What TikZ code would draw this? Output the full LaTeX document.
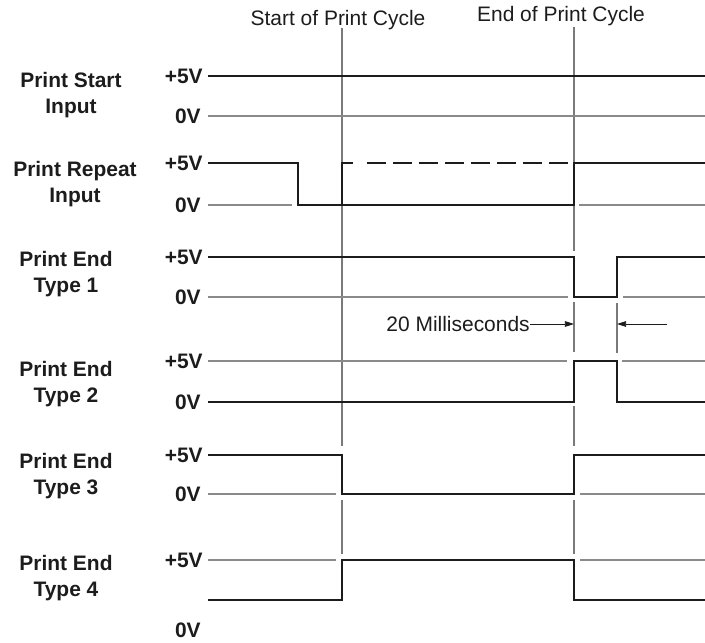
\documentclass[tikz,border=0pt]{standalone}
\usepackage{fontspec}
\setmainfont{Liberation Sans}
\usetikzlibrary{arrows.meta}
\definecolor{sigblack}{HTML}{1C1C1C}
\definecolor{refgray}{HTML}{8A8A8A}
\definecolor{cycgray}{HTML}{7A7A7A}
\tikzset{
  sig/.style={line width=1.5pt, draw=sigblack, line join=miter},
  refline/.style={line width=0.8pt, draw=refgray},
  cycline/.style={line width=0.8pt, draw=cycgray},
  siglbl/.style={font=\fontsize{14.9}{18.1}\selectfont\bfseries, align=center,
                 inner sep=0pt, text=sigblack},
  volt/.style={font=\fontsize{14.9}{18}\selectfont\bfseries, anchor=east,
               inner sep=0pt, text=sigblack},
  note/.style={font=\fontsize{14.9}{18}\selectfont, inner sep=0pt, text=sigblack},
  dimarr/.style={-{Triangle[length=6.5pt, width=4pt]}, line width=0.6pt, sigblack},
}

\begin{document}
\begin{tikzpicture}[x=0.025cm, y=-0.025cm]
  \useasboundingbox (0,0) rectangle (705,643);

  % Cycle markers
  \node[note, anchor=base] (startcyc) at (338,26) {Start of Print Cycle};
  \node[note, anchor=base] (endcyc) at (561,22) {End of Print Cycle};
  \draw[cycline] (342,28) -- (342,446);
  \draw[cycline] (342,500) -- (342,554);
  \draw[cycline] (574,27) -- (574,251);
  \draw[cycline] (574,302) -- (574,352);
  \draw[cycline] (574,406) -- (574,446);
  \draw[cycline] (574,500) -- (574,554);
  \draw[cycline] (617,303) -- (617,353);

  % Signal names
  \node[siglbl] (pstart) at (71,95) {Print Start\\Input};
  \node[siglbl] (prepeat) at (75,184) {Print Repeat\\Input};
  \node[siglbl] (pendone) at (66,274) {Print End\\Type 1};
  \node[siglbl] (pendtwo) at (66,384) {Print End\\Type 2};
  \node[siglbl] (pendthree) at (66,476) {Print End\\Type 3};
  \node[siglbl] (pendfour) at (66,578) {Print End\\Type 4};

  % Voltage levels
  \node[volt] (hione) at (203,76) {+5V};
  \node[volt] (loone) at (201,116) {0V};
  \node[volt] (hitwo) at (203,163) {+5V};
  \node[volt] (lotwo) at (201,205) {0V};
  \node[volt] (hithree) at (203,257) {+5V};
  \node[volt] (lothree) at (201,297) {0V};
  \node[volt] (hifour) at (203,361) {+5V};
  \node[volt] (lofour) at (201,402) {0V};
  \node[volt] (hifive) at (203,455) {+5V};
  \node[volt] (lofive) at (201,494) {0V};
  \node[volt] (hisix) at (203,560) {+5V};
  \node[volt] (losix) at (201,630) {0V};

  % Print Start Input
  \draw[refline] (208,116) -- (705,116);
  \draw[sig] (208,76) -- (705,76);

  % Print Repeat Input
  \draw[refline] (208,205) -- (292,205);
  \draw[refline] (579,205) -- (705,205);
  \draw[sig] (208,163) -- (298,163) -- (298,205) -- (574,205) -- (574,163) -- (705,163);
  \draw[sig] (342,205) -- (342,163) -- (353,163);
  \draw[sig, dash pattern=on 0.475cm off 0.175cm] (367,163) -- (568,163);

  % Print End Type 1
  \draw[refline] (208,297) -- (568,297);
  \draw[refline] (623,297) -- (705,297);
  \draw[sig] (208,257) -- (574,257) -- (574,297) -- (617,297) -- (617,257) -- (705,257);

  % Pulse width
  \node[note, anchor=east] (twentyms) at (530,324) {20 Milliseconds};
  \coordinate (msright) at (667,324);
  \draw[dimarr] (twentyms.east) -- (574,324);
  \draw[dimarr] (msright) -- (617,324);

  % Print End Type 2
  \draw[refline] (208,361) -- (567,361);
  \draw[refline] (622,361) -- (705,361);
  \draw[sig] (208,402) -- (574,402) -- (574,361) -- (617,361) -- (617,402) -- (705,402);

  % Print End Type 3
  \draw[refline] (208,494) -- (336,494);
  \draw[refline] (580,494) -- (705,494);
  \draw[sig] (208,455) -- (342,455) -- (342,494) -- (574,494) -- (574,455) -- (705,455);

  % Print End Type 4
  \draw[refline] (208,560) -- (336,560);
  \draw[refline] (580,560) -- (705,560);
  \draw[sig] (208,600) -- (342,600) -- (342,560) -- (574,560) -- (574,600) -- (705,600);
\end{tikzpicture}
\end{document}
